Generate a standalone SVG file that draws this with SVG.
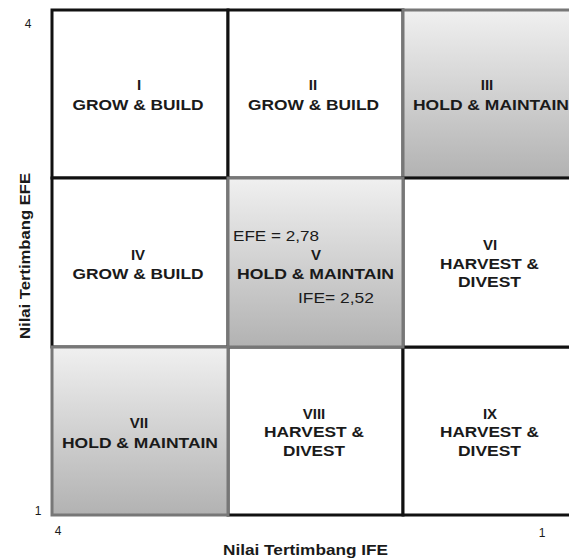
<svg xmlns="http://www.w3.org/2000/svg" width="569" height="560" viewBox="0 0 569 560">
<defs>
<linearGradient id="g" x1="0" y1="0" x2="0" y2="1">
<stop offset="0" stop-color="#f0f0f0"/>
<stop offset="1" stop-color="#b2b2b2"/>
</linearGradient>
</defs>
<style>
.w{fill:#fff;stroke:#111;stroke-width:3}
.s{fill:url(#g);stroke:#777;stroke-width:3}
.t{font-family:"Liberation Sans",Arial,sans-serif;font-weight:bold;font-size:15px;fill:#1a1a1a;text-anchor:middle}
.r{font-family:"Liberation Sans",Arial,sans-serif;font-size:15px;fill:#1a1a1a}
.n{font-family:"Liberation Sans",Arial,sans-serif;font-size:12px;fill:#1a1a1a;text-anchor:middle}
.a{font-family:"Liberation Sans",Arial,sans-serif;font-weight:bold;font-size:14px;fill:#1a1a1a;text-anchor:middle}
</style>
<rect width="569" height="560" fill="#fff"/>
<g id="cell-I"><rect class="w" x="52" y="10" width="176" height="168"/>
<text class="t" x="139" y="90">I</text><text class="t" x="138" y="110" textLength="131" lengthAdjust="spacingAndGlyphs">GROW &amp; BUILD</text></g>
<g id="cell-II"><rect class="w" x="228" y="10" width="175" height="168"/>
<text class="t" x="313" y="90">II</text><text class="t" x="313.5" y="110" textLength="131" lengthAdjust="spacingAndGlyphs">GROW &amp; BUILD</text></g>
<g id="cell-IV"><rect class="w" x="52" y="178" width="176" height="169"/>
<text class="t" x="138" y="260">IV</text><text class="t" x="138" y="279" textLength="131" lengthAdjust="spacingAndGlyphs">GROW &amp; BUILD</text></g>
<g id="cell-VIII"><rect class="w" x="228" y="347" width="175" height="168"/>
<text class="t" x="314" y="419">VIII</text><text class="t" x="314" y="437" textLength="100" lengthAdjust="spacingAndGlyphs">HARVEST &amp;</text><text class="t" x="314" y="456" textLength="62" lengthAdjust="spacingAndGlyphs">DIVEST</text></g>
<g id="cell-IX"><rect class="w" x="403" y="347" width="176" height="168"/>
<text class="t" x="490" y="419">IX</text><text class="t" x="489.5" y="437" textLength="99" lengthAdjust="spacingAndGlyphs">HARVEST &amp;</text><text class="t" x="489.5" y="456" textLength="63" lengthAdjust="spacingAndGlyphs">DIVEST</text></g>
<g id="cell-III"><rect class="s" x="403" y="10" width="176" height="168"/>
<text class="t" x="487" y="90">III</text><text class="t" x="491" y="110" textLength="156" lengthAdjust="spacingAndGlyphs">HOLD &amp; MAINTAIN</text></g>
<g id="cell-VI"><rect class="w" x="403" y="178" width="176" height="169"/>
<text class="t" x="490" y="250">VI</text><text class="t" x="489.5" y="269" textLength="99" lengthAdjust="spacingAndGlyphs">HARVEST &amp;</text><text class="t" x="489.5" y="287" textLength="63" lengthAdjust="spacingAndGlyphs">DIVEST</text></g>
<g id="cell-V"><rect class="s" x="228" y="178" width="175" height="169"/>
<text class="r" x="233" y="241" textLength="86" lengthAdjust="spacingAndGlyphs">EFE = 2,78</text>
<text class="t" x="316" y="260">V</text><text class="t" x="315.5" y="279" textLength="157" lengthAdjust="spacingAndGlyphs">HOLD &amp; MAINTAIN</text>
<text class="r" x="298" y="303" textLength="76" lengthAdjust="spacingAndGlyphs">IFE= 2,52</text></g>
<g id="cell-VII"><rect class="s" x="52" y="347" width="176" height="168"/>
<text class="t" x="139" y="428">VII</text><text class="t" x="140" y="448" textLength="156" lengthAdjust="spacingAndGlyphs">HOLD &amp; MAINTAIN</text></g>
<g id="connectors"></g>
<g id="axes">
<text class="n" x="28" y="28">4</text>
<text class="n" x="38" y="515">1</text>
<text class="n" x="58" y="535">4</text>
<text class="n" x="542" y="537">1</text>
<text class="a" x="305.5" y="555" textLength="165" lengthAdjust="spacingAndGlyphs">Nilai Tertimbang IFE</text>
<text class="a" transform="translate(30,256) rotate(-90)" x="0" y="0" textLength="166" lengthAdjust="spacingAndGlyphs">Nilai Tertimbang EFE</text>
</g>
</svg>
